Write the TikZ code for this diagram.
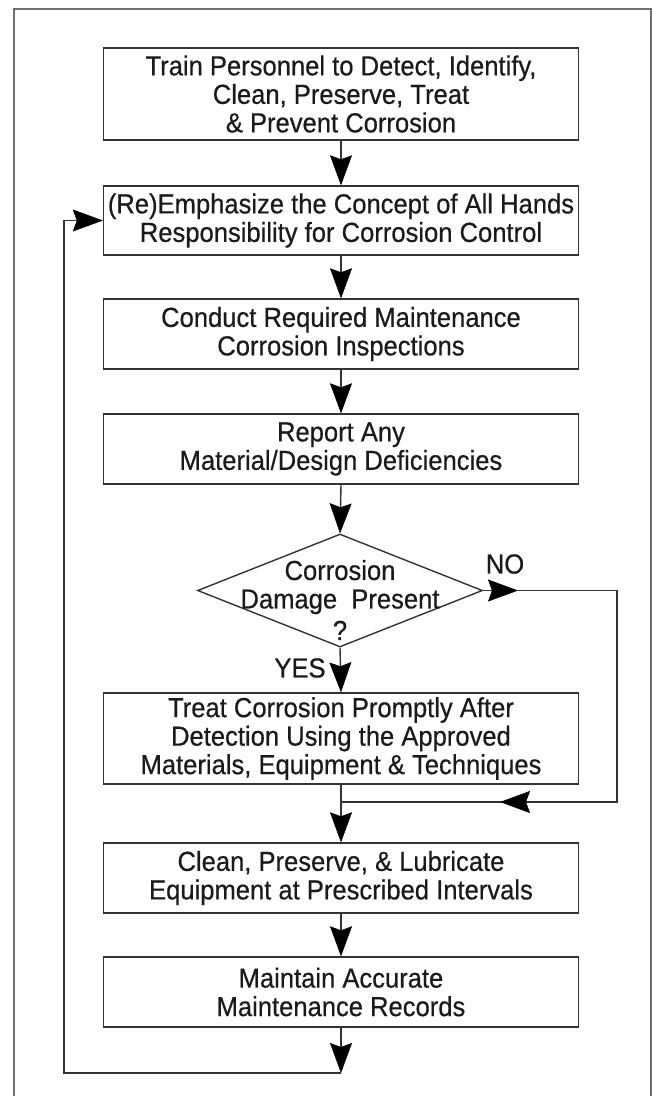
\documentclass[tikz,border=0pt]{standalone}
\usepackage{fontspec}
\setmainfont[FakeStretch=0.93,FakeBold=0.5]{Liberation Sans}
\usetikzlibrary{shapes.geometric,arrows.meta}
\definecolor{linegray}{HTML}{333333}
\definecolor{framegray}{HTML}{6E6E6E}
\definecolor{textblack}{HTML}{1A1A1A}
\begin{document}
\begin{tikzpicture}[x=1pt,y=-1pt,
  stepbox/.style={draw=linegray,line width=1.4pt,minimum width=475pt,align=center,
    inner sep=0pt,text=textblack,font=\fontsize{27.5pt}{28.5pt}\selectfont},
  decide/.style={draw=linegray,line width=1.4pt,shape=diamond,minimum width=285pt,
    minimum height=113pt,inner sep=0pt},
  lbl/.style={text=textblack,font=\fontsize{27.5pt}{28.5pt}\selectfont,inner sep=0pt,align=center},
  conn/.style={draw=linegray,line width=1.4pt},
  arr/.style={conn,-{Stealth[length=30pt,width=22pt,inset=4pt,line width=0.5pt,color=black,fill=black]}}
]
\useasboundingbox (0,0) rectangle (653,1096);
% outer frame
\draw[framegray,line width=2pt] (14,1100) -- (14,9) -- (651,9) -- (651,1100);

\node[stepbox,minimum height=92pt] (b1) at (341,94) {Train Personnel to Detect, Identify,\\Clean, Preserve, Treat\\\& Prevent Corrosion};
\node[stepbox,minimum height=69pt] (b2) at (341,220.5) {(Re)Emphasize the Concept of All Hands\\Responsibility for Corrosion Control};
\node[stepbox,minimum height=70pt] (b3) at (341,334) {Conduct Required Maintenance\\Corrosion Inspections};
\node[stepbox,minimum height=70pt] (b4) at (341,449) {Report Any\\Material/Design Deficiencies};
\node[decide] (d) at (340,590.5) {};
\node[lbl] (dt) at (340,600) {Corrosion\\Damage\ \ Present\\[3pt]?};
\node[stepbox,minimum height=91pt] (b5) at (341,738.5) {Treat Corrosion Promptly After\\Detection Using the Approved\\Materials, Equipment \& Techniques};
\node[stepbox,minimum height=70pt] (b6) at (341,878) {Clean, Preserve, \& Lubricate\\Equipment at Prescribed Intervals};
\node[stepbox,minimum height=70pt] (b7) at (341,992) {Maintain Accurate\\Maintenance Records};

\node[lbl] (yes) at (300,668) {YES};
\node[lbl] (no) at (505,564) {NO};

\coordinate (noT) at (518,590.5);
\coordinate (noR) at (617,590.5);
\coordinate (noB) at (617,802);
\coordinate (noM) at (500,802);
\coordinate (join) at (341,802);
\coordinate (lb) at (341,1073);
\coordinate (lbL) at (64,1073);
\coordinate (ltL) at (64,220.5);

\draw[arr] (b1.south) -- (b2.north);
\draw[arr] (b2.south) -- (b3.north);
\draw[arr] (b3.south) -- (b4.north);
\draw[arr] (b4.south) -- (d.north);
\draw[arr] (d.south) -- (b5.north);
\draw[arr] (d.east) -- (noT);
\draw[conn] (noT) -- (noR) -- (noB) -- (noM);
\draw[arr] (noB) -- (noM);
\draw[conn] (noM) -- (join);
\draw[arr] (b5.south) -- (b6.north);
\draw[arr] (b6.south) -- (b7.north);
\draw[arr] (b7.south) -- (lb);
\draw[arr] (lb) -- (lbL) -- (ltL) -- (b2.west);
\end{tikzpicture}
\end{document}
